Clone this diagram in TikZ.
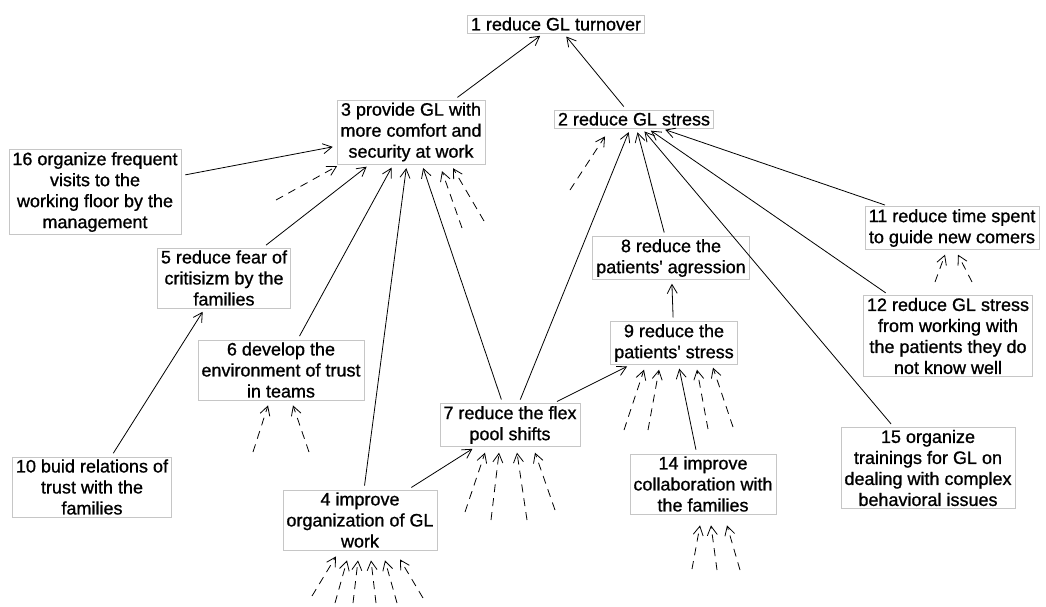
\documentclass[tikz,border=0pt]{standalone}
\usepackage{fontspec}
\setmainfont{Liberation Sans}
\newfontfamily\cmapfont[FakeBold=0.9]{Liberation Sans}
\usetikzlibrary{arrows.meta,positioning,calc}

\begin{document}
\begin{tikzpicture}[x=1pt,y=-1pt,
   cnode/.style={draw=gray!45,line width=0.6pt,fill=white,align=center,
     inner xsep=3.5pt,inner ysep=2.5pt,font=\cmapfont\fontsize{18}{21}\selectfont},
   arr/.style={-{Straight Barb[length=9pt,width=10pt]},line width=0.8pt,
     shorten <=4pt,shorten >=4pt},
   darr/.style={arr,dash pattern=on 8pt off 6pt,shorten <=0pt,shorten >=0pt}]
 \useasboundingbox (0,0) rectangle (1046,606);

 % factors
 \node[cnode] (n1) at (556,24) {1 reduce GL turnover};
 \node[cnode] (n2) at (634,119) {2 reduce GL stress};
 \node[cnode] (n3) at (411,132) {3 provide GL with\\more comfort and\\security at work};
 \node[cnode] (n16) at (95,192) {16 organize frequent\\visits to the\\working floor by the\\management};
 \node[cnode] (n5) at (224,278) {5 reduce fear of\\critisizm by the\\families};
 \node[cnode] (n6) at (281,370) {6 develop the\\environment of trust\\in teams};
 \node[cnode] (n10) at (92,487) {10 buid relations of\\trust with the\\families};
 \node[cnode] (n4) at (360,520) {4 improve\\organization of GL\\work};
 \node[cnode] (n7) at (510,425) {7 reduce the flex\\pool shifts};
 \node[cnode] (n8) at (671,258) {8 reduce the\\patients' agression};
 \node[cnode] (n9) at (674,343) {9 reduce the\\patients' stress};
 \node[cnode] (n14) at (703,484) {14 improve\\collaboration with\\the families};
 \node[cnode] (n11) at (952,228) {11 reduce time spent\\to guide new comers};
 \node[cnode] (n12) at (948,336) {12 reduce GL stress\\from working with\\the patients they do\\not know well};
 \node[cnode] (n15) at (928,468) {15 organize\\trainings for GL on\\dealing with complex\\behavioral issues};

 % causal links
 \draw[arr] (n3) -- (n1);
 \draw[arr] (n2) -- (n1);
 \draw[arr] (n16) -- (n3);
 \draw[arr] (n5) -- (n3);
 \draw[arr] (n6) -- (n3);
 \draw[arr] (n4) -- (n3);
 \draw[arr] (n7) -- (n3);
 \draw[arr] (n10) -- (n5);
 \draw[arr] (n4) -- (n7);
 \draw[arr] (n7) -- (n2);
 \draw[arr] (n8) -- (n2);
 \draw[arr] (n15) -- (n2);
 \draw[arr] (n12) -- (n2);
 \draw[arr] (n11) -- (n2);
 \draw[arr] (n9) -- (n8);
 \draw[arr] (n7) -- (n9);
 \draw[arr] (n14) -- (n9);

 % open (dashed) links
 \foreach \sx/\sy/\ex/\ey [count=\i] in {276/200/-74/2,462/228/31/7,484/221/42/4}
 {\coordinate (d3\i) at (\sx,\sy);
  \draw[darr] (d3\i) -- ([shift={(\ex,\ey)}]n3.south);}
 \coordinate (d21) at (570,190);
 \draw[darr] (d21) -- ([shift={(-29,8)}]n2.south);
 \foreach \sx/\sy/\ex/\ey [count=\i] in {935/282/-7/5,972/282/6/5}
 {\coordinate (d11\i) at (\sx,\sy);
  \draw[darr] (d11\i) -- ([shift={(\ex,\ey)}]n11.south);}
 \foreach \sx/\sy/\ex/\ey [count=\i] in {253/452/-13/5,309/452/12/5}
 {\coordinate (d6\i) at (\sx,\sy);
  \draw[darr] (d6\i) -- ([shift={(\ex,\ey)}]n6.south);}
 \foreach \sx/\sy/\ex/\ey [count=\i] in {312/596/-24/6,335/603/-13/10,353/603/-2/10,
   376/603/11/10,397/603/25/10,423/598/40/9}
 {\coordinate (d4\i) at (\sx,\sy);
  \draw[darr] (d4\i) -- ([shift={(\ex,\ey)}]n4.south);}
 \foreach \sx/\sy/\ex/\ey [count=\i] in {465/512/-25/6,491/520/-11/6,527/520/7/6,555/510/25/6}
 {\coordinate (d7\i) at (\sx,\sy);
  \draw[darr] (d7\i) -- ([shift={(\ex,\ey)}]n7.south);}
 \foreach \sx/\sy/\ex/\ey [count=\i] in {624/430/-30/5,648/430/-15/5,708/429/23/5,733/427/39/3}
 {\coordinate (d9\i) at (\sx,\sy);
  \draw[darr] (d9\i) -- ([shift={(\ex,\ey)}]n9.south);}
 \foreach \sx/\sy/\ex/\ey [count=\i] in {692/569/-3/11,717/570/8/11,740/570/24/11}
 {\coordinate (d14\i) at (\sx,\sy);
  \draw[darr] (d14\i) -- ([shift={(\ex,\ey)}]n14.south);}
\end{tikzpicture}
\end{document}
